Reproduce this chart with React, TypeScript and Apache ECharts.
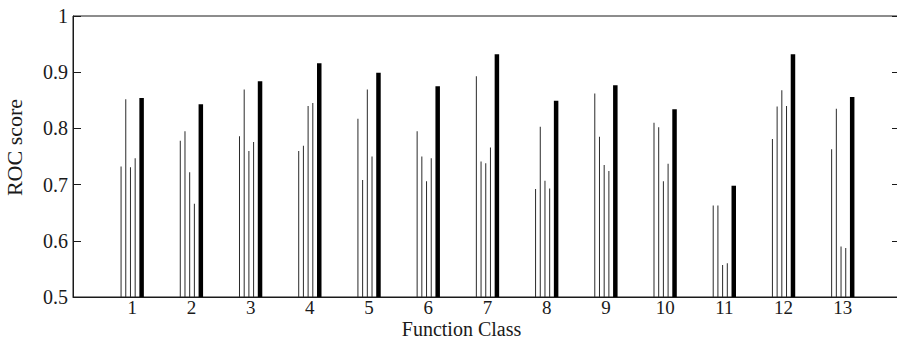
import React, { useEffect, useRef } from "react";
import * as echarts from "echarts";

const categories = ["1", "2", "3", "4", "5", "6", "7", "8", "9", "10", "11", "12", "13"];
const method1 = [0.732, 0.778, 0.786, 0.76, 0.817, 0.795, 0.893, 0.692, 0.862, 0.81, 0.663, 0.781, 0.763];
const method2 = [0.852, 0.795, 0.869, 0.769, 0.708, 0.75, 0.741, 0.803, 0.785, 0.802, 0.663, 0.839, 0.835];
const method3 = [0.731, 0.722, 0.76, 0.84, 0.869, 0.706, 0.738, 0.707, 0.735, 0.706, 0.557, 0.868, 0.59];
const method4 = [0.747, 0.666, 0.776, 0.845, 0.75, 0.747, 0.766, 0.693, 0.724, 0.737, 0.56, 0.84, 0.587];
const combined = [0.854, 0.843, 0.884, 0.916, 0.899, 0.875, 0.932, 0.849, 0.877, 0.834, 0.698, 0.932, 0.856];
const yTicks = ["0.5", "0.6", "0.7", "0.8", "0.9", "1"];

const FONT = "'Liberation Serif', 'Times New Roman', serif";
const INK = "#1a1a1a";

export default function App() {
  const ref = useRef<HTMLDivElement>(null);
  useEffect(() => {
    if (!ref.current) return;
    const chart = echarts.init(ref.current, undefined, { renderer: "svg" });
    const pad = (arr: number[]) => ["-", ...arr, "-"];
    const xData = ["", ...categories, ""];
    const thin = (name: string, data: number[]) => ({
      name,
      type: "bar",
      data: pad(data),
      barWidth: 1,
      barGap: "370%",
      itemStyle: { color: "#2a2a2a" },
      silent: true,
    });
    chart.setOption({
      animation: false,
      grid: {
        left: 73,
        top: 16,
        right: 8,
        bottom: 44,
        show: true,
        borderColor: INK,
        borderWidth: 1,
        backgroundColor: "transparent",
        containLabel: false,
        outerBoundsMode: "none",
      },
      xAxis: {
        type: "category",
        data: xData,
        boundaryGap: false,
        name: "Function Class",
        nameLocation: "middle",
        nameGap: 23,
        nameMoveOverlap: false,
        nameTextStyle: {
          fontFamily: FONT,
          fontSize: 20,
          lineHeight: 18,
          color: INK,
          padding: [0, 52, 0, 0],
        },
        axisLine: { show: true, lineStyle: { color: INK, width: 1 } },
        axisTick: { show: false },
        axisLabel: {
          interval: 0,
          margin: 2,
          fontFamily: FONT,
          fontSize: 19,
          lineHeight: 17,
          color: INK,
        },
        splitLine: { show: false },
      },
      yAxis: [
        {
          type: "value",
          min: 0.5,
          max: 1,
          interval: 0.1,
          name: "ROC score",
          nameLocation: "middle",
          nameGap: 48,
          nameMoveOverlap: false,
          nameTextStyle: {
            fontFamily: FONT,
            fontSize: 22,
            color: INK,
            padding: [0, 0, 0, 18],
          },
          axisLine: { show: true, lineStyle: { color: INK, width: 1 } },
          axisTick: { show: true, inside: true, length: 8, lineStyle: { color: INK } },
          axisLabel: {
            margin: 5,
            fontFamily: FONT,
            fontSize: 20,
            color: INK,
            formatter: (v: number) => yTicks[Math.round((v - 0.5) * 10)] ?? "",
          },
          splitLine: { show: false },
        },
        {
          type: "value",
          position: "right",
          min: 0.5,
          max: 1,
          interval: 0.1,
          axisLine: { show: false },
          axisTick: { show: true, inside: true, length: 10, lineStyle: { color: INK } },
          axisLabel: { show: false },
          splitLine: { show: false },
        },
      ],
      series: [
        thin("Method 1", method1),
        thin("Method 2", method2),
        thin("Method 3", method3),
        thin("Method 4", method4),
        {
          name: "Combined",
          type: "bar",
          data: pad(combined),
          barWidth: 4.5,
          barGap: "370%",
          itemStyle: { color: "#000" },
          silent: true,
        },
      ],
    });
    return () => chart.dispose();
  }, []);
  return (
    <div
      style={{
        position: "fixed",
        left: 0,
        top: 0,
        width: 897,
        height: 341,
        overflow: "hidden",
        background: "#fff",
      }}
    >
      <div ref={ref} style={{ width: 910, height: 341 }} />
    </div>
  );
}
